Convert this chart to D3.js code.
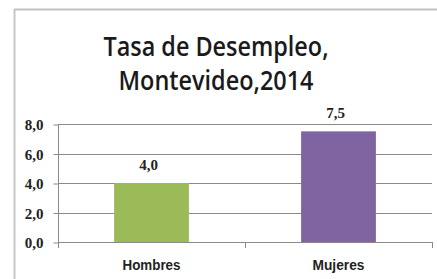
<!DOCTYPE html>
<html><head><meta charset="utf-8">
<script src="https://cdn.jsdelivr.net/npm/d3@7"></script>
<style>html,body{margin:0;padding:0;background:#fff;}svg{display:block;}</style>
</head><body>
<svg id="c" width="437" height="279"></svg>
<script>
const titleLines = ["Tasa de Desempleo,", "Montevideo,2014"];
const categories = ["Hombres", "Mujeres"];
const values = [4.0, 7.5];
const colors = ["#9BBB59", "#8064A2"];
const yTicks = [0, 2, 4, 6, 8];

const svg = d3.select("#c");
const fmt = v => d3.format(".1f")(v).replace(".", ",");

// outer frame
svg.append("line").attr("x1",14.5).attr("x2",14.5).attr("y1",9).attr("y2",279).attr("stroke","#c8c8c8").attr("stroke-width",2);
svg.append("line").attr("x1",14).attr("x2",437).attr("y1",9.5).attr("y2",9.5).attr("stroke","#c0c0c0").attr("stroke-width",2);

// title
const tl = [{t:titleLines[0], y:56, w:225}, {t:titleLines[1], y:90, w:195}];
svg.selectAll("text.title").data(tl).enter().append("text")
  .attr("class","title").attr("x",216).attr("y",d=>d.y)
  .attr("text-anchor","middle")
  .attr("font-family","'Open Sans', sans-serif").attr("font-size",27).attr("font-weight",600)
  .attr("fill","#1a1a1a")
  .attr("textLength",d=>d.w).attr("lengthAdjust","spacingAndGlyphs")
  .text(d=>d.t);

const x0 = 58, x1 = 432, yB = 242, yT = 124;
const x = d3.scaleBand().domain(categories).range([x0, x1]).paddingInner(0.6).paddingOuter(0.3);
const y = d3.scaleLinear().domain([0, 8]).range([yB, yT]);

// gridlines
svg.append("g").selectAll("line").data(yTicks).enter().append("line")
  .attr("x1", x0).attr("x2", x1).attr("y1", d=>Math.round(y(d))+0.5).attr("y2", d=>Math.round(y(d))+0.5)
  .attr("stroke","#8a8a8a").attr("stroke-width",1);

// y axis
const yAxis = d3.axisLeft(y).tickValues(yTicks).tickSize(5).tickFormat(fmt);
const gy = svg.append("g").attr("transform",`translate(${x0+0.5},0.5)`).call(yAxis);
gy.attr("font-family",null).attr("font-size",null);
gy.select(".domain").attr("stroke","#8a8a8a").attr("d",`M0,${yT}V${yB}`);
gy.selectAll(".tick line").attr("stroke","#8a8a8a");
gy.selectAll(".tick text").attr("x",-15).attr("dy","0.36em")
  .style("font-family","'Liberation Serif', serif").style("font-weight","bold").style("font-size","15px").attr("fill","#222");

// bars
svg.append("g").selectAll("rect").data(values).enter().append("rect")
  .attr("x",(d,i)=>x(categories[i])).attr("width",x.bandwidth())
  .attr("y",d=>y(d)).attr("height",d=>y(0)-y(d))
  .attr("fill",(d,i)=>colors[i]);

// x axis ticks
const boundaries = [x0, (x0+x1)/2, x1];
svg.append("g").selectAll("line").data(boundaries).enter().append("line")
  .attr("x1",d=>Math.round(d)+0.5).attr("x2",d=>Math.round(d)+0.5).attr("y1",yB).attr("y2",yB+6)
  .attr("stroke","#8a8a8a");

// category labels
const catW = [58, 52];
svg.append("g").selectAll("text").data(categories).enter().append("text")
  .attr("x",d=>x(d)+x.bandwidth()/2).attr("y",270).attr("text-anchor","middle")
  .style("font-family","'Liberation Sans', sans-serif").style("font-weight","bold").style("font-size","15px")
  .attr("textLength",(d,i)=>catW[i]).attr("lengthAdjust","spacingAndGlyphs")
  .attr("fill","#222").text(d=>d);

// value labels
svg.append("g").selectAll("text").data(values).enter().append("text")
  .attr("x",(d,i)=>x(categories[i])+x.bandwidth()/2 - 3).attr("y",d=>y(d)-13).attr("text-anchor","middle")
  .style("font-family","'Liberation Serif', serif").style("font-weight","bold").style("font-size","15px")
  .attr("fill","#222").text(d=>fmt(d));
</script>
</body></html>
